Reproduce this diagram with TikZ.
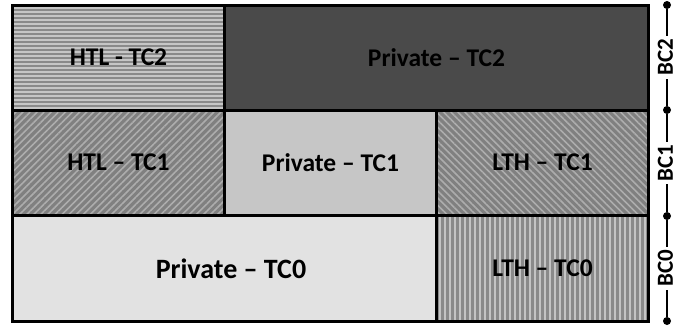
\documentclass[tikz,border=0pt]{standalone}
\usepackage{fontspec}
\setmainfont{Carlito}
\usetikzlibrary{patterns.meta}
\definecolor{ptwo}{HTML}{4A4A4A}
\definecolor{pone}{HTML}{C6C6C6}
\definecolor{pzero}{HTML}{E2E2E2}
\definecolor{hbg}{HTML}{C6C6C6}
\definecolor{hln}{HTML}{8A8A8A}
\definecolor{dbg}{HTML}{808080}
\definecolor{dln}{HTML}{ADADAD}
\definecolor{vbg}{HTML}{8A8A8A}
\definecolor{vln}{HTML}{C4C4C4}
\tikzset{
  cell/.style={draw=black, line width=3bp, rectangle, inner sep=0pt, outer sep=0pt,
    font=\fontsize{25.5bp}{27bp}\selectfont\bfseries, text=black},
  wide/.style={minimum width=212bp, minimum height=105bp},
  hstripe/.style={preaction={fill=hbg}, pattern={Lines[angle=0,distance=4bp,line width=2bp]}, pattern color=hln},
  nestripe/.style={preaction={fill=dbg}, pattern={Lines[angle=45,distance=5bp,line width=1.6bp]}, pattern color=dln},
  nwstripe/.style={preaction={fill=dbg}, pattern={Lines[angle=-45,distance=5bp,line width=1.6bp]}, pattern color=dln},
  vstripe/.style={preaction={fill=vbg}, pattern={Lines[angle=90,distance=5bp,line width=2bp]}, pattern color=vln},
  bcdot/.style={circle, fill=black, inner sep=0pt, minimum size=8bp},
  bcline/.style={line width=2.5bp, black},
  bclabel/.style={fill=white, rotate=90, yshift=1.5bp, inner xsep=3bp, inner ysep=0pt, font=\fontsize{23bp}{24bp}\selectfont\bfseries},
}
\begin{document}
\begin{tikzpicture}[x=1bp,y=-1bp]
\useasboundingbox[fill=white] (0,0) rectangle (677,326);
% row BC2
\node[cell, wide, hstripe] (htl2) at (118.5,57.5) {HTL - TC2};
\node[cell, minimum width=424bp, minimum height=105bp, fill=ptwo] (prv2) at (436.5,57.5) {Private -- TC2};
% row BC1
\node[cell, wide, nestripe] (htl1) at (118.5,162.5) {HTL -- TC1};
\node[cell, minimum width=212bp, minimum height=105bp, fill=pone] (prv1) at (330.5,162.5) {Private -- TC1};
\node[cell, wide, nwstripe] (lth1) at (542.5,162.5) {LTH -- TC1};
% row BC0
\node[cell, minimum width=424bp, minimum height=106bp, fill=pzero] (prv0) at (224.5,268) {};
\node[font=\fontsize{28bp}{30bp}\selectfont\bfseries, inner sep=0pt] (prv0t) at (231,268.5) {Private -- TC0};
\node[cell, minimum width=212bp, minimum height=106bp, vstripe] (lth0) at (542.5,268) {LTH -- TC0};
% BC axis
\node[bcdot] (d3) at (667,5) {};
\node[bcdot] (d2) at (667,110) {};
\node[bcdot] (d1) at (667,216) {};
\node[bcdot] (d0) at (667,321) {};
\draw[bcline] (d3) -- node[bclabel] {BC2} (d2);
\draw[bcline] (d2) -- node[bclabel] {BC1} (d1);
\draw[bcline] (d1) -- node[bclabel] {BC0} (d0);
\end{tikzpicture}
\end{document}
